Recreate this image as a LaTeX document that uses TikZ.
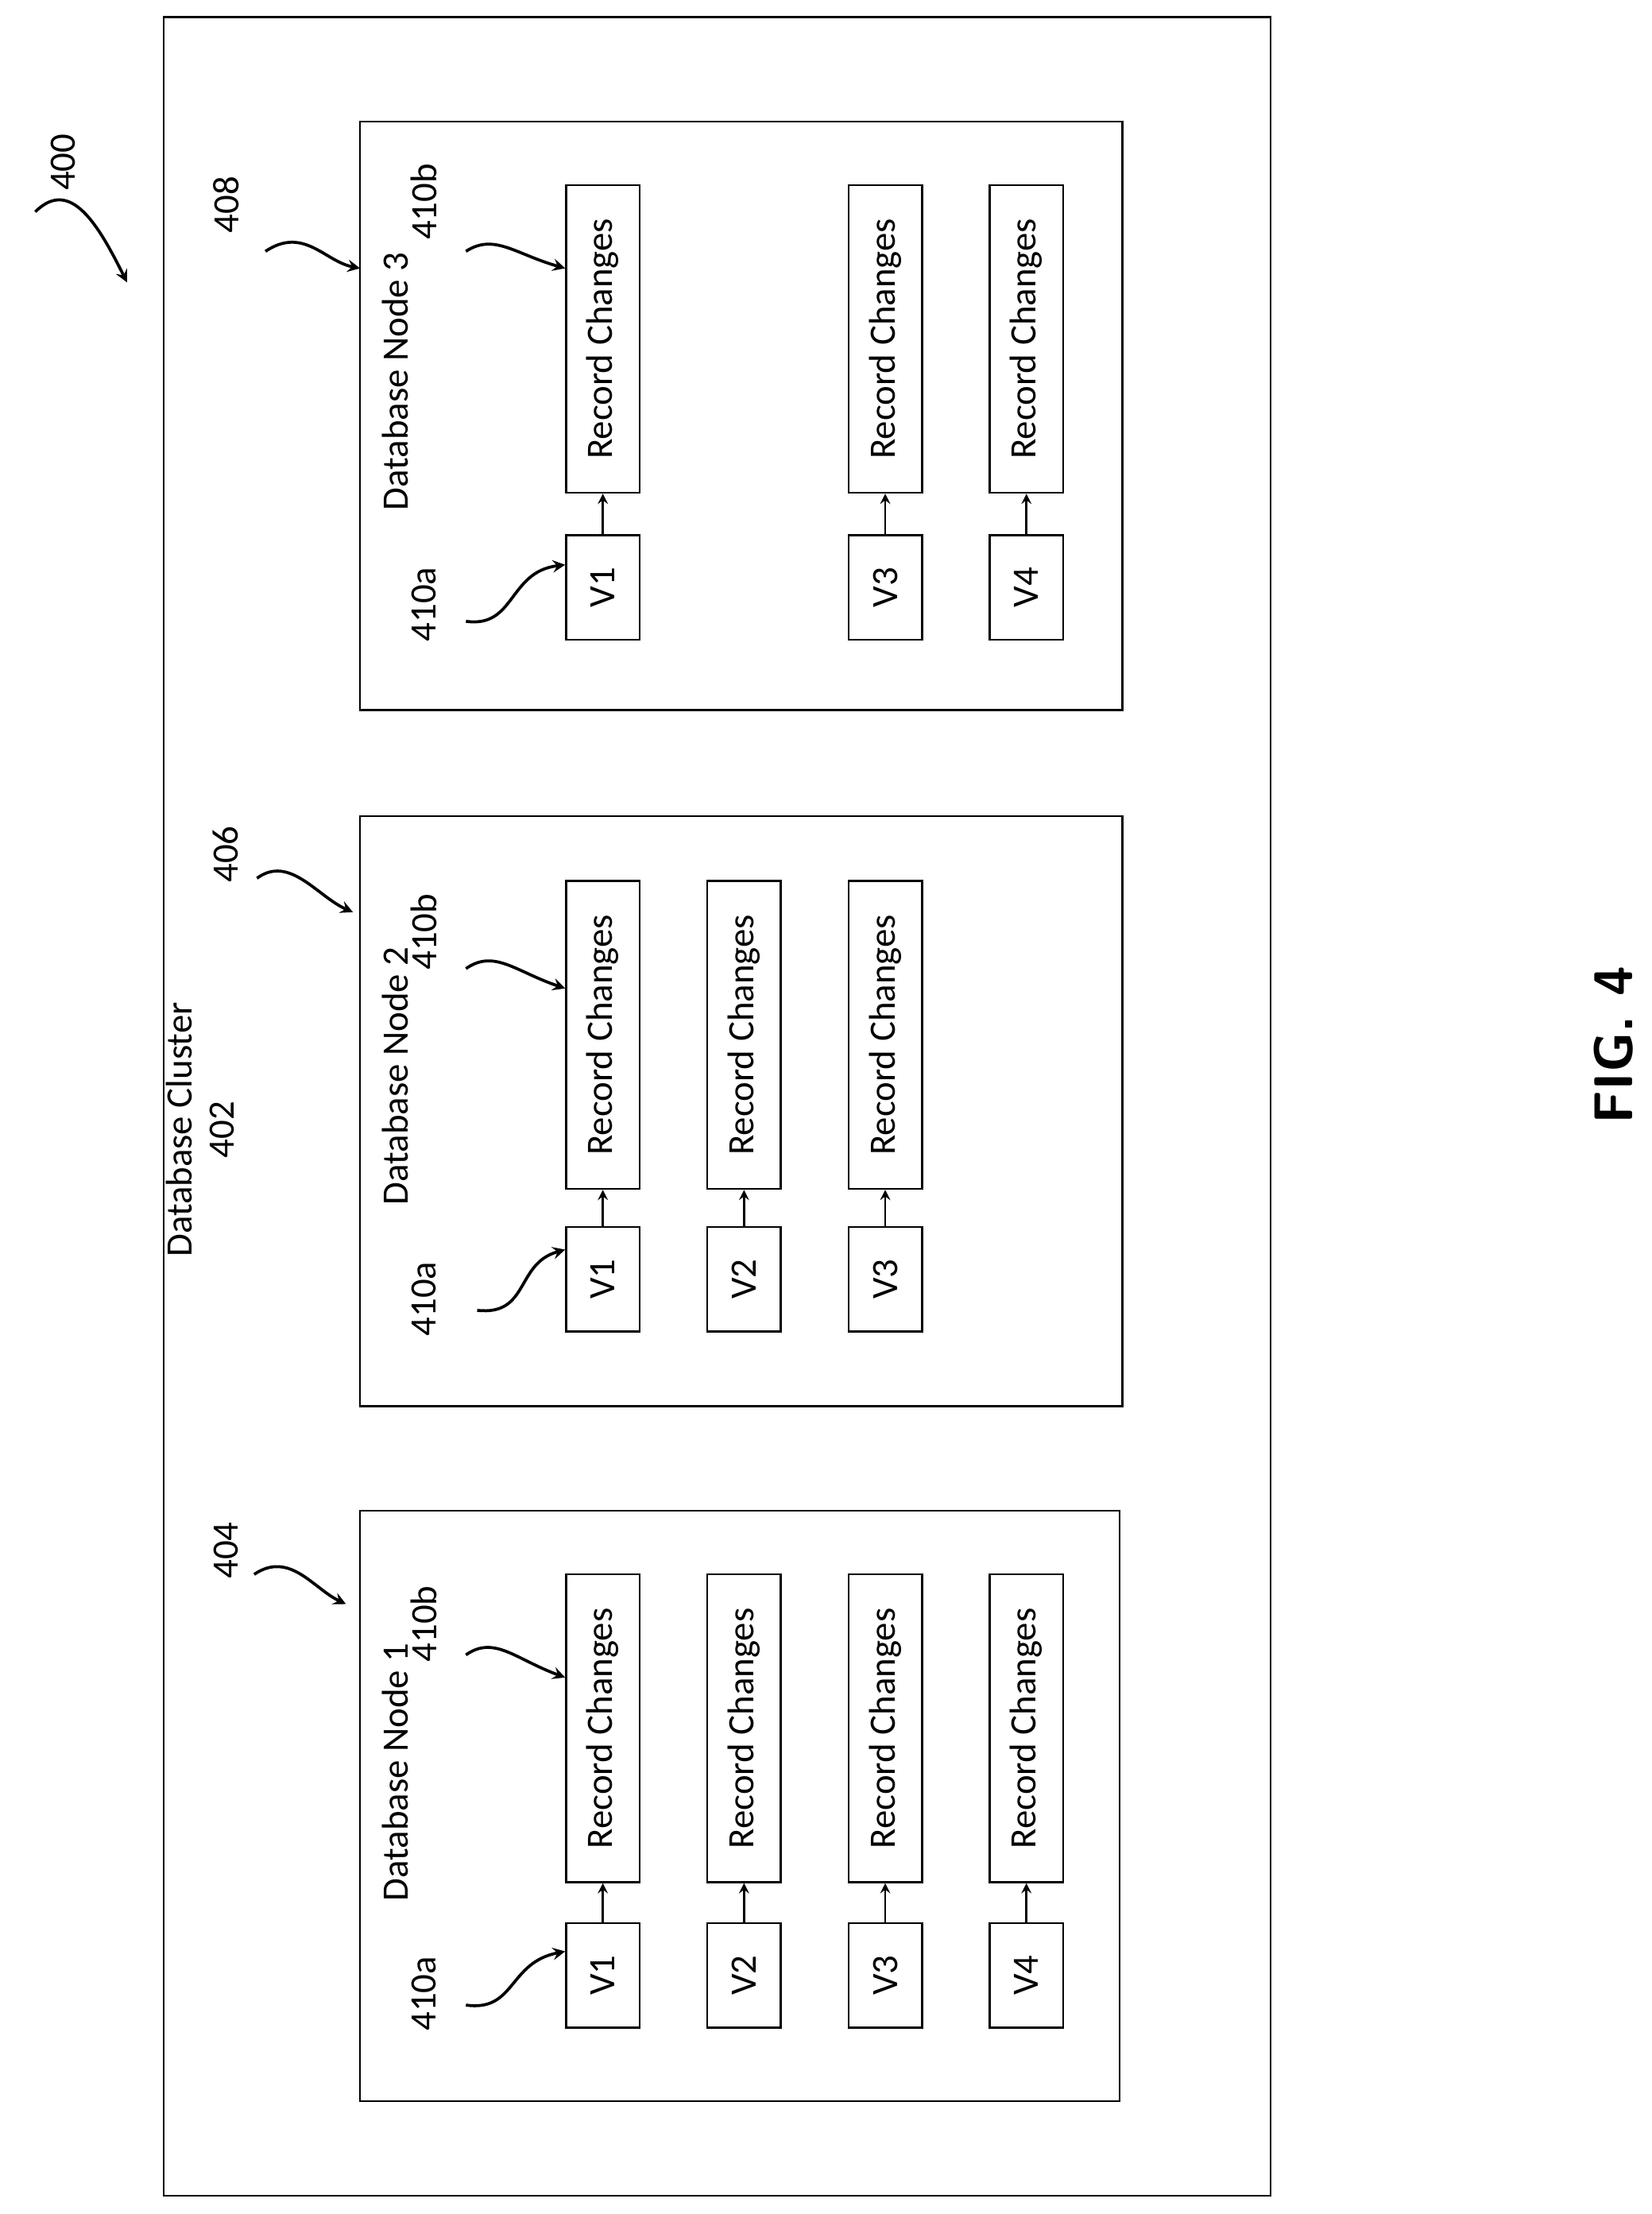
\documentclass[tikz,border=0pt]{standalone}
\usepackage{fontspec}
\setmainfont{Carlito}
\usepackage{tikz}

\begin{document}
\begin{tikzpicture}[x=0.02cm, y=-0.02cm, every text node part/.style={align=center},
    box/.style={draw, line width=0.8pt, minimum width=52*0.02cm, inner sep=0pt},
    rc/.style={box, minimum height=218*0.02cm},
    ver/.style={box, minimum height=74*0.02cm},
    vlab/.style={rotate=90, font=\fontsize{15}{17}\selectfont},
    pointer/.style={-stealth, line width=1.2pt}]
    \useasboundingbox (0, 0) rectangle (1170, 1568);

    \draw[line width=0.8pt] (116, 12) rectangle (900, 1555);
    \node[vlab] (cluster) at (142, 800) {Database Cluster\\402};
    \node[rotate=90, font=\sffamily\bfseries\fontsize{22}{24}\selectfont] (fig) at (1143, 740) {FIG. 4};

    % reference number of the whole figure
    \node[vlab] (n400) at (45, 115) {400};
    \coordinate (t400) at (90, 200);
    \draw[pointer] (25, 150) .. controls (50, 125) and (70, 160) .. (t400);

    % database nodes
    \draw[line width=0.8pt] (255, 86) rectangle (795, 503);
    \draw[line width=0.8pt] (255, 578) rectangle (795, 996);
    \draw[line width=0.8pt] (255, 1070) rectangle (793, 1488);
    \node[vlab] (dn3) at (280, 270) {Database Node 3};
    \node[vlab] (dn2) at (280, 762) {Database Node 2};
    \node[vlab] (dn1) at (280, 1255) {Database Node 1};

    % node 3
    \foreach \c/\v in {427/1, 627/3, 727/4} {
        \node[rc] (rc3\v) at (\c, 240) {};
        \node[vlab] at (rc3\v) {Record Changes};
        \node[ver] (v3\v) at (\c, 416) {};
        \node[vlab] at (v3\v) {V\v};
        \draw[-stealth, thick] (v3\v) -- (rc3\v);
    }
    % node 2
    \foreach \c/\v in {427/1, 527/2, 627/3} {
        \node[rc] (rc2\v) at (\c, 733) {};
        \node[vlab] at (rc2\v) {Record Changes};
        \node[ver] (v2\v) at (\c, 906) {};
        \node[vlab] at (v2\v) {V\v};
        \draw[-stealth, thick] (v2\v) -- (rc2\v);
    }
    % node 1
    \foreach \c/\v in {427/1, 527/2, 627/3, 727/4} {
        \node[rc] (rc1\v) at (\c, 1224) {};
        \node[vlab] at (rc1\v) {Record Changes};
        \node[ver] (v1\v) at (\c, 1399) {};
        \node[vlab] at (v1\v) {V\v};
        \draw[-stealth, thick] (v1\v) -- (rc1\v);
    }

    % reference numbers
    \node[vlab] (n408) at (160, 145) {408};
    \draw[pointer] (188, 178) .. controls (215, 160) and (230, 185) .. (255, 190);
    \node[vlab] (n406) at (160, 605) {406};
    \draw[pointer] (182, 622) .. controls (205, 605) and (225, 635) .. (250, 646);
    \node[vlab] (n404) at (160, 1098) {404};
    \draw[pointer] (180, 1115) .. controls (205, 1098) and (222, 1125) .. (245, 1136);

    \node[vlab] (a3) at (300, 428) {410a};
    \draw[pointer] (330, 440) .. controls (365, 445) and (360, 405) .. (v31.west |- 0, 400);
    \node[vlab] (b3) at (300, 143) {410b};
    \draw[pointer] (330, 178) .. controls (350, 165) and (365, 180) .. (rc31.west |- 0, 190);
    \node[vlab] (a2) at (300, 920) {410a};
    \draw[pointer] (338, 928) .. controls (375, 932) and (365, 895) .. (v21.west |- 0, 885);
    \node[vlab] (b2) at (300, 660) {410b};
    \draw[pointer] (330, 686) .. controls (350, 672) and (365, 688) .. (rc21.west |- 0, 700);
    \node[vlab] (a1) at (300, 1412) {410a};
    \draw[pointer] (330, 1420) .. controls (365, 1425) and (360, 1390) .. (v11.west |- 0, 1382);
    \node[vlab] (b1) at (300, 1150) {410b};
    \draw[pointer] (330, 1172) .. controls (350, 1158) and (365, 1175) .. (rc11.west |- 0, 1188);
\end{tikzpicture}
\end{document}
